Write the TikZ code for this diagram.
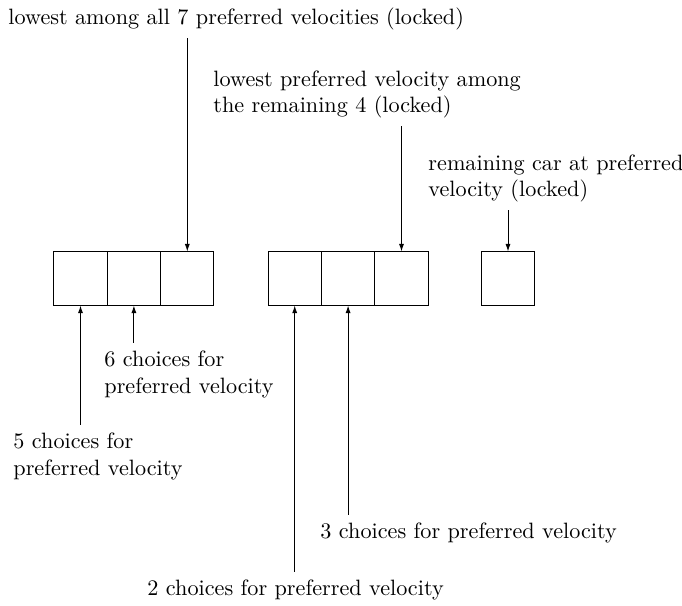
\documentclass[tikz,border=0pt]{standalone}
\usetikzlibrary{arrows.meta}
\tikzset{
  cell/.style={draw, rectangle, minimum size=24pt, inner sep=0pt, line width=0.4pt},
  lbl/.style={align=left, anchor=base west, inner sep=3.33pt},
  arr/.style={-{Latex[length=3.4pt,width=2.3pt]}, line width=0.4pt}
}
\begin{document}
\begin{tikzpicture}[x=0.4505pt, y=-0.4505pt]
\useasboundingbox (0,0) rectangle (682,606);
% boxes
\node[cell] (b1) at (80.5,278.5) {};
\node[cell] (b2) at (133.9,278.5) {};
\node[cell] (b3) at (187.3,278.5) {};
\node[cell] (b4) at (294.7,278.5) {};
\node[cell] (b5) at (348.1,278.5) {};
\node[cell] (b6) at (401.5,278.5) {};
\node[cell] (b7) at (508,278.5) {};
% labels (base anchor = baseline of last line)
\node[lbl] (t1) at (0.6,25) {lowest among all 7 preferred velocities (locked)};
\node[lbl] (t2) at (205.6,113) {lowest preferred velocity among\\the remaining 4 (locked)};
\node[lbl] (t3) at (420.6,197) {remaining car at preferred\\velocity (locked)};
\node[lbl] (t6) at (96.6,393) {6 choices for\\preferred velocity};
\node[lbl] (t5) at (5.6,475) {5 choices for\\preferred velocity};
\node[lbl] (c3) at (312.6,538) {3 choices for preferred velocity};
\node[lbl] (c2) at (139.6,595) {2 choices for preferred velocity};
% arrows
\draw[arr] (b3.north |- t1.south) -- (b3.north);
\draw[arr] (b6.north |- t2.south) -- (b6.north);
\draw[arr] (b7.north |- t3.south) -- (b7.north);
\draw[arr] (b2.south |- t6.north) -- (b2.south);
\draw[arr] (b1.south |- t5.north) -- (b1.south);
\draw[arr] (b5.south |- c3.north) -- (b5.south);
\draw[arr] (b4.south |- c2.north) -- (b4.south);
\end{tikzpicture}
\end{document}
